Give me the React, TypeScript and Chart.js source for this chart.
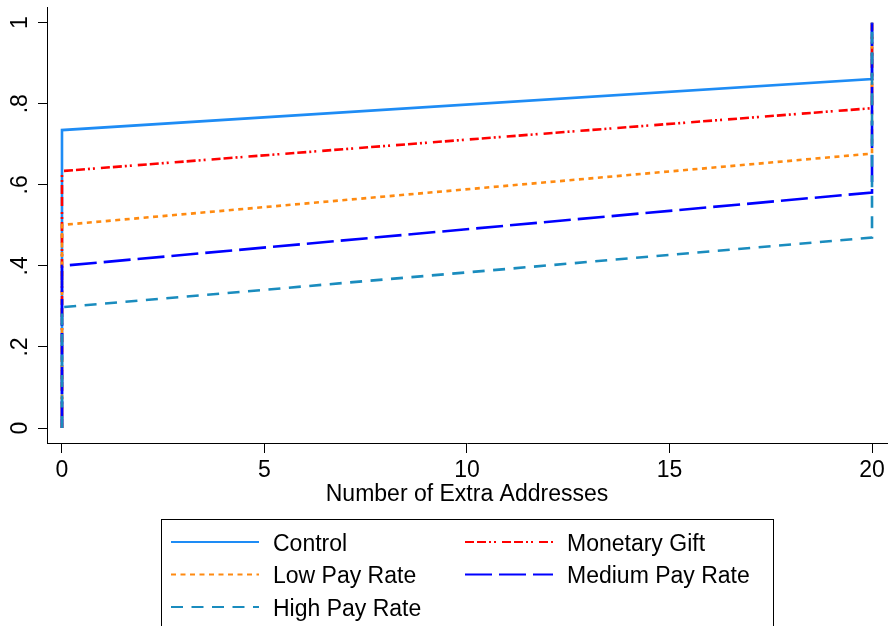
import React, { useEffect, useRef } from "react";
import { Chart, registerables } from "chart.js";

Chart.register(...registerables);

// ---- data ----
const seriesNames = ["Control", "Monetary Gift", "Low Pay Rate", "Medium Pay Rate", "High Pay Rate"];
const xPoints = [0, 0, 20, 20];
const controlValues = [0, 0.735, 0.861, 1];
const monetaryGiftValues = [0, 0.634, 0.789, 1];
const lowPayValues = [0, 0.501, 0.677, 1];
const mediumPayValues = [0, 0.4, 0.581, 1];
const highPayValues = [0, 0.298, 0.47, 1];

const xTickValues = [0, 5, 10, 15, 20];
const yTickValues = [0, 0.2, 0.4, 0.6, 0.8, 1];
const yTickLabels = ["0", ".2", ".4", ".6", ".8", "1"];
const xAxisTitle = "Number of Extra Addresses";

// ---- styles ----
const seriesColors = ["#1E8CF5", "#FF0000", "#FF8A10", "#0000FF", "#1A8CBE"];
const seriesDashes: number[][] = [[], [9, 3, 9, 3, 2, 3, 2, 6], [5, 4.5], [27, 7], [12, 8.5]];
const FONT = "'Liberation Sans', Arial, Helvetica, sans-serif";
const FS = 23;

const legendPlugin = {
  id: "boxLegend",
  afterDraw(chart: any) {
    const ctx = chart.ctx as CanvasRenderingContext2D;
    ctx.save();
    ctx.strokeStyle = "#000";
    ctx.lineWidth = 1;
    ctx.strokeRect(161.5, 519.5, 612, 140);
    const layout = [
      { i: 0, col: 0, row: 0 },
      { i: 1, col: 1, row: 0 },
      { i: 2, col: 0, row: 1 },
      { i: 3, col: 1, row: 1 },
      { i: 4, col: 0, row: 2 },
    ];
    const colX = [171, 465];
    const lineLen = 88;
    const rowY = [542, 574.5, 607];
    ctx.font = `${FS}px ${FONT}`;
    ctx.textBaseline = "middle";
    ctx.fillStyle = "#000";
    for (const it of layout) {
      const ds = chart.data.datasets[it.i];
      const x = colX[it.col];
      const y = rowY[it.row];
      ctx.beginPath();
      ctx.strokeStyle = ds.borderColor;
      ctx.lineWidth = 2;
      ctx.setLineDash(ds.borderDash || []);
      ctx.moveTo(x, y);
      ctx.lineTo(x + lineLen, y);
      ctx.stroke();
      ctx.setLineDash([]);
      ctx.fillText(ds.label, x + lineLen + 14, y + 2.5);
    }
    ctx.restore();
  },
};

export default function App() {
  const ref = useRef<HTMLCanvasElement>(null);

  useEffect(() => {
    if (!ref.current) return;
    const allValues = [controlValues, monetaryGiftValues, lowPayValues, mediumPayValues, highPayValues];
    const datasets = seriesNames.map((name, k) => ({
      label: name,
      data: xPoints.map((x, j) => ({ x, y: allValues[k][j] })),
      borderColor: seriesColors[k],
      backgroundColor: seriesColors[k],
      borderDash: seriesDashes[k],
      borderWidth: 2.6,
      pointRadius: 0,
      fill: false,
      tension: 0,
      order: seriesNames.length - k,
    }));

    const chart = new Chart(ref.current, {
      type: "line",
      data: { datasets },
      options: {
        responsive: false,
        animation: false,
        devicePixelRatio: 1,
        layout: { padding: { left: 0, top: 7, right: 1, bottom: 0 } },
        plugins: { legend: { display: false }, tooltip: { enabled: false } },
        scales: {
          x: {
            type: "linear",
            min: -0.37,
            max: 20.37,
            afterBuildTicks: (s: any) => {
              s.ticks = xTickValues.map((v) => ({ value: v }));
            },
            afterFit: (s: any) => {
              s.height = 183;
              s.paddingLeft = 0;
              s.paddingRight = 0;
            },
            ticks: {
              color: "#000",
              font: { family: FONT, size: FS },
              padding: 4,
              maxRotation: 0,
              minRotation: 0,
              callback: (v: any) => String(v),
            },
            grid: { drawOnChartArea: false, drawTicks: true, tickLength: 10, color: "#000", lineWidth: 1 },
            border: { display: true, color: "#000", width: 1 },
            title: {
              display: true,
              text: xAxisTitle,
              color: "#000",
              font: { family: FONT, size: FS },
              padding: { top: 0, bottom: 118 },
            },
          },
          y: {
            type: "linear",
            min: -0.037,
            max: 1.0387,
            afterBuildTicks: (s: any) => {
              s.ticks = yTickValues.map((v) => ({ value: v }));
            },
            afterFit: (s: any) => {
              s.width = 47;
              s.paddingTop = 0;
              s.paddingBottom = 0;
            },
            ticks: {
              color: "#000",
              font: { family: FONT, size: FS },
              padding: 8,
              minRotation: 90,
              maxRotation: 90,
              crossAlign: "center",
              callback: (v: any) => {
                const idx = yTickValues.findIndex((t) => Math.abs(t - Number(v)) < 1e-6);
                return idx >= 0 ? yTickLabels[idx] : "";
              },
            },
            grid: { drawOnChartArea: false, drawTicks: true, tickLength: 9, color: "#000", lineWidth: 1 },
            border: { display: true, color: "#000", width: 1 },
          },
        },
      },
      plugins: [legendPlugin],
    } as any);
    return () => chart.destroy();
  }, []);

  return (
    <div style={{ position: "absolute", left: 0, top: 0, width: 888, height: 626, background: "#fff" }}>
      <canvas ref={ref} width={888} height={626} style={{ display: "block" }} />
    </div>
  );
}
